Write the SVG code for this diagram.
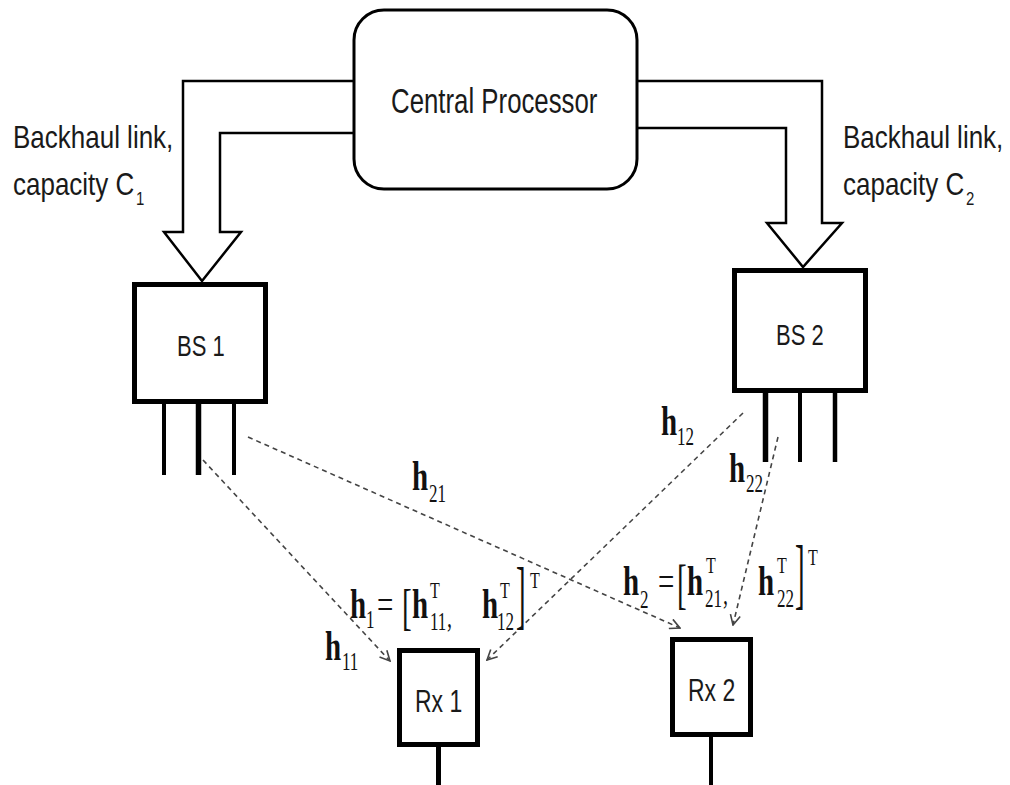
<svg xmlns="http://www.w3.org/2000/svg" width="1010" height="785" viewBox="0 0 1010 785">
<style>
.lbl{font-family:"Liberation Sans",Arial,sans-serif;fill:#1a1a1a}
.m{font-family:"Liberation Serif","Times New Roman",serif;fill:#111}
.b{font-weight:bold}
.box{fill:#fff;stroke:#000;stroke-width:5}
.ant{stroke:#000;fill:none}
.bh{fill:#fff;stroke:#000;stroke-width:2.5;stroke-linejoin:miter}
.ch{fill:none;stroke:#444;stroke-width:1.6;stroke-dasharray:5 4}
</style>
<defs>
<marker id="ah" viewBox="0 0 12 12" refX="11" refY="6" markerWidth="12" markerHeight="12" markerUnits="userSpaceOnUse" orient="auto">
<path d="M1,1 L11,6 L1,11" fill="none" stroke="#444" stroke-width="1.6"/>
</marker>
</defs>
<rect width="1010" height="785" fill="#fff"/>

<g id="backhaul">
<path class="bh" d="M354,81 H183 V232 H164 L202,281 L241,232 H220 V133 H354"/>
<path class="bh" d="M637,81 H822 V223 H842 L803,267 L767,223 H786 V128 H637"/>
<text class="lbl" font-size="26" transform="translate(13,148) scale(1,1.18)">Backhaul link,</text>
<text class="lbl" font-size="26" transform="translate(13,195) scale(1,1.18)">capacity C<tspan x="123" y="8.5" font-size="15">1</tspan></text>
<text class="lbl" font-size="26" transform="translate(843,148) scale(1,1.18)">Backhaul link,</text>
<text class="lbl" font-size="26" transform="translate(843,195) scale(1,1.18)">capacity C<tspan x="123" y="8.5" font-size="15">2</tspan></text>
</g>

<g id="central-processor">
<rect x="354" y="10" width="283" height="179" rx="30" fill="#fff" stroke="#000" stroke-width="3"/>
<text class="lbl" font-size="25.8" transform="translate(391,113) scale(1,1.34)">Central Processor</text>
</g>

<g id="bs1">
<rect class="box" x="134.5" y="284.5" width="131" height="117"/>
<line class="ant" x1="164" y1="404" x2="164" y2="475" stroke-width="4"/>
<line class="ant" x1="198.5" y1="404" x2="198.5" y2="475" stroke-width="5.5"/>
<line class="ant" x1="234" y1="404" x2="234" y2="475" stroke-width="4"/>
<text class="lbl" font-size="22" transform="translate(177,356) scale(1,1.35)">BS 1</text>
</g>

<g id="bs2">
<rect class="box" x="734.5" y="270.5" width="131" height="120"/>
<line class="ant" x1="765.5" y1="393" x2="765.5" y2="462" stroke-width="5.5"/>
<line class="ant" x1="800" y1="393" x2="800" y2="462" stroke-width="4"/>
<line class="ant" x1="835" y1="393" x2="835" y2="462" stroke-width="4.5"/>
<text class="lbl" font-size="22" transform="translate(776,345) scale(1,1.35)">BS 2</text>
</g>

<g id="rx1">
<rect class="box" x="399.5" y="650.5" width="78" height="94"/>
<line class="ant" x1="438.5" y1="747" x2="438.5" y2="785" stroke-width="5"/>
<text class="lbl" font-size="23" transform="translate(415,712) scale(1,1.33)">Rx 1</text>
</g>

<g id="rx2">
<rect class="box" x="672.5" y="639.5" width="78" height="95"/>
<line class="ant" x1="711" y1="737" x2="711" y2="785" stroke-width="4"/>
<text class="lbl" font-size="23" transform="translate(688,701) scale(1,1.33)">Rx 2</text>
</g>

<g id="connectors">
<line class="ch" x1="203" y1="460" x2="390" y2="661" marker-end="url(#ah)"/>
<line class="ch" x1="743" y1="413" x2="487" y2="660" marker-end="url(#ah)"/>
<line class="ch" x1="248" y1="437" x2="680" y2="628" marker-end="url(#ah)"/>
<line class="ch" x1="778" y1="437" x2="733" y2="625" marker-end="url(#ah)"/>
</g>

<g id="channel-labels">
<text class="m" transform="translate(0,490) scale(1,1.45)"><tspan class="b" x="412" y="0" font-size="29">h</tspan><tspan x="429" y="8.3" font-size="17">21</tspan></text>
<text class="m" transform="translate(0,435) scale(1,1.45)"><tspan class="b" x="661" y="0" font-size="29">h</tspan><tspan x="677" y="6.9" font-size="17">12</tspan></text>
<text class="m" transform="translate(0,482) scale(1,1.45)"><tspan class="b" x="729" y="0" font-size="29">h</tspan><tspan x="746" y="6.9" font-size="17">22</tspan></text>
<text class="m" transform="translate(0,660) scale(1,1.45)"><tspan class="b" x="325" y="0" font-size="29">h</tspan><tspan x="342" y="6.9" font-size="17">11</tspan></text>
</g>

<g id="eq-h1">
<text class="m" transform="translate(0,618) scale(1,1.45)"><tspan class="b" x="350" y="0" font-size="29">h</tspan><tspan x="366" y="6.9" font-size="17">1</tspan><tspan x="377" y="0" font-size="29">=</tspan><tspan class="b" x="412" y="0" font-size="29">h</tspan><tspan x="430" y="-13.8" font-size="16">T</tspan><tspan x="430" y="8.3" font-size="17">11</tspan><tspan x="447" y="6" font-size="20">,</tspan><tspan class="b" x="482" y="0" font-size="29">h</tspan><tspan x="500" y="-13.8" font-size="16">T</tspan><tspan x="497" y="8.3" font-size="17">12</tspan><tspan x="530" y="-20.7" font-size="16">T</tspan></text>
<text class="m" font-size="29" transform="translate(0,624) scale(1,1.77)" x="402" y="0">[</text>
<text class="m" font-size="29" transform="translate(0,620) scale(1,2.61)" x="516" y="0">]</text>
</g>

<g id="eq-h2">
<text class="m" transform="translate(0,595) scale(1,1.45)"><tspan class="b" x="623" y="0" font-size="29">h</tspan><tspan x="640" y="9" font-size="17">2</tspan><tspan x="658" y="0" font-size="29">=</tspan><tspan class="b" x="687" y="0" font-size="29">h</tspan><tspan x="706" y="-15.2" font-size="16">T</tspan><tspan x="705" y="8.3" font-size="17">21</tspan><tspan x="723" y="6" font-size="20">,</tspan><tspan class="b" x="758" y="0" font-size="29">h</tspan><tspan x="777" y="-15.2" font-size="16">T</tspan><tspan x="777" y="8.3" font-size="17">22</tspan><tspan x="808" y="-20.7" font-size="16">T</tspan></text>
<text class="m" font-size="29" transform="translate(0,603) scale(1,1.9)" x="677" y="0">[</text>
<text class="m" font-size="29" transform="translate(0,600) scale(1,2.7)" x="795" y="0">]</text>
</g>
</svg>
